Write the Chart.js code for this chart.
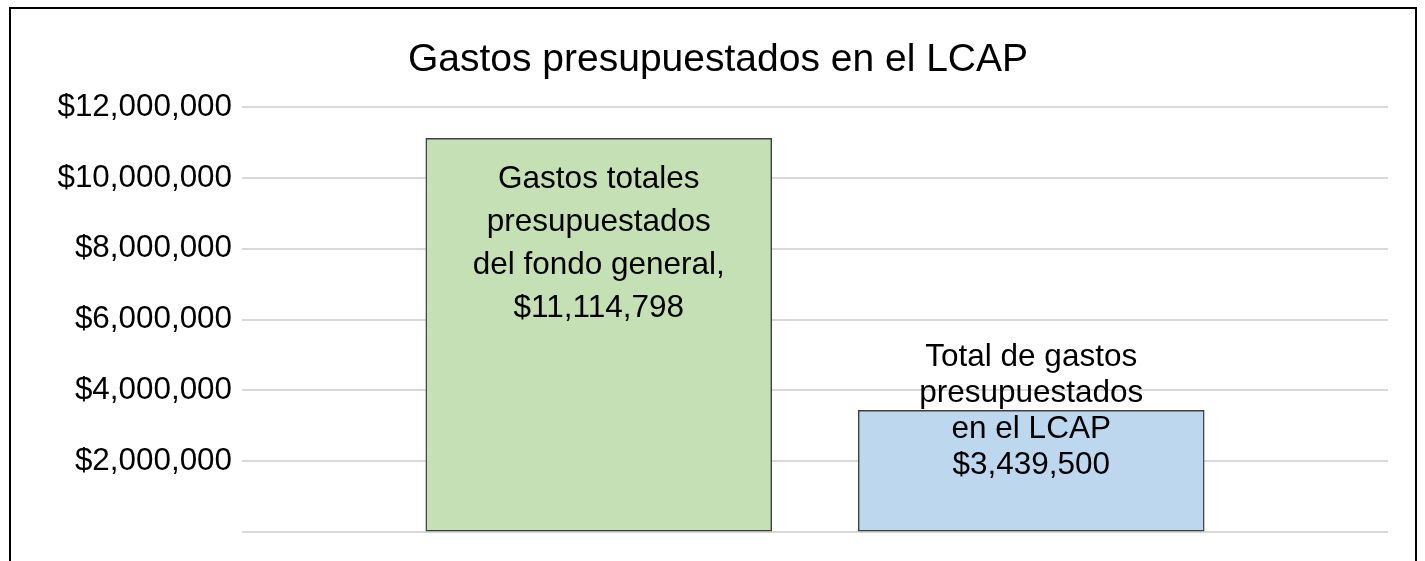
<!DOCTYPE html>
<html><head><meta charset="utf-8">
<script src="https://cdn.jsdelivr.net/npm/chart.js@4.4.0/dist/chart.umd.min.js"></script>
<style>html,body{margin:0;padding:0;background:#fff;overflow:hidden;} #wrap{position:relative;width:1425px;height:561px;}</style>
</head><body><div id="wrap"><canvas id="c" width="1425" height="561"></canvas></div>
<script>
const chartTitle = 'Gastos presupuestados en el LCAP';
const categories = ['Gastos totales presupuestados del fondo general', 'Total de gastos presupuestados en el LCAP'];
const budgetValues = [11114798, 3439500];
const labelTextLines = [
  ['Gastos totales', 'presupuestados', 'del fondo general,'],
  ['Total de gastos', 'presupuestados', 'en el LCAP']
];
const yMin = 0;
const yMax = 12000000;
const yStep = 2000000;
const barColors = ['#C5E0B4', '#BDD7EE'];

const FONT = '"Liberation Sans", Arial, Helvetica, sans-serif';
const labelFirstBaselineOffset = [50, -44];
const labelLineHeights = [43, 36];
const fmtMoney = v => '$' + v.toLocaleString('en-US');

const framePlugin = {
  id: 'frame',
  afterDraw(chart) {
    const ctx = chart.ctx;
    ctx.save();
    ctx.strokeStyle = '#000';
    ctx.lineWidth = 2;
    ctx.beginPath();
    ctx.moveTo(10, 561);
    ctx.lineTo(10, 8);
    ctx.lineTo(1416, 8);
    ctx.lineTo(1416, 561);
    ctx.stroke();
    ctx.fillStyle = '#000';
    ctx.font = '39px ' + FONT;
    ctx.textAlign = 'center';
    ctx.textBaseline = 'alphabetic';
    ctx.fillText(chartTitle, 718, 71);
    ctx.restore();
  }
};

const barLabelPlugin = {
  id: 'barLabels',
  afterDatasetsDraw(chart) {
    const ctx = chart.ctx;
    const meta = chart.getDatasetMeta(0);
    ctx.save();
    ctx.fillStyle = '#000';
    ctx.font = '31.5px ' + FONT;
    ctx.textAlign = 'center';
    ctx.textBaseline = 'alphabetic';
    meta.data.forEach((bar, i) => {
      const lines = labelTextLines[i].concat([fmtMoney(budgetValues[i])]);
      const y0 = bar.y + labelFirstBaselineOffset[i];
      lines.forEach((t, k) => ctx.fillText(t, bar.x, y0 + k * labelLineHeights[i]));
    });
    ctx.restore();
  }
};

new Chart(document.getElementById('c'), {
  type: 'bar',
  data: {
    labels: categories,
    datasets: [{
      label: chartTitle,
      data: budgetValues.map((v, i) => ({ x: i + 1, y: v })),
      backgroundColor: barColors,
      borderColor: '#404040',
      borderWidth: 1.5,
      borderSkipped: false,
      barThickness: 346
    }]
  },
  options: {
    responsive: false,
    animation: false,
    devicePixelRatio: 1,
    layout: { padding: { left: 0, top: 107, right: 37, bottom: 28 } },
    plugins: { legend: { display: false }, title: { display: false }, tooltip: { enabled: false } },
    scales: {
      x: { type: 'linear', offset: false, min: 0.175, max: 2.825, display: false, grid: { display: false, offset: false } },
      y: {
        min: yMin, max: yMax,
        ticks: {
          stepSize: yStep,
          padding: 10,
          color: '#000',
          font: { family: FONT, size: 31.4 },
          callback: v => v === 0 ? '' : fmtMoney(v)
        },
        grid: { color: '#D9D9D9', lineWidth: 2, drawTicks: false },
        border: { display: false },
        afterFit: s => { s.width = 242; }
      }
    }
  },
  plugins: [framePlugin, barLabelPlugin]
});
</script>
</body></html>
